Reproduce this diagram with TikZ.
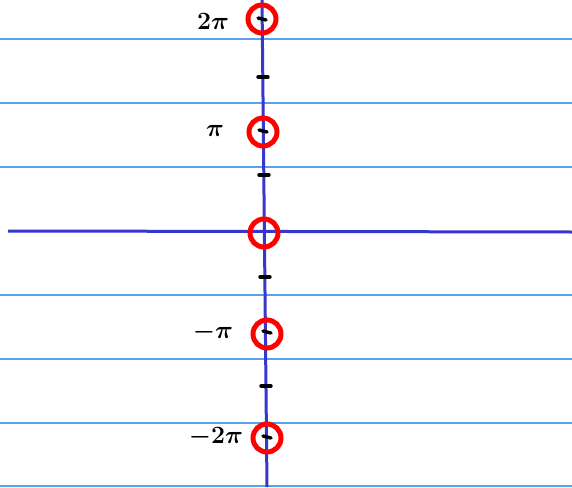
\documentclass[tikz,border=0pt]{standalone}
\usepackage{amsmath}
\usepackage{bm}
\definecolor{ruleblue}{RGB}{90,160,235}
\definecolor{axisblue}{RGB}{55,55,205}
\begin{document}
\begin{tikzpicture}[x=1pt,y=-1pt,
  ruled/.style={draw=ruleblue,line width=1.1pt},
  axis/.style={draw=axisblue,line width=3pt},
  hole/.style={circle,draw=red,line width=5pt,minimum size=28pt,inner sep=0pt},
  tickm/.style={draw=black,line width=3.4pt,line cap=round},
  lab/.style={font=\fontsize{24}{26}\selectfont,text=black}]
\useasboundingbox (0,0) rectangle (572,487);
\fill[white] (0,0) rectangle (572,487);
% notebook lines
\foreach \y in {39,103,167,295,359,423,486}
  \draw[ruled] (0,\y) -- (572,\y);
% axes
\coordinate (vt) at (262,0);
\coordinate (vb) at (267,487);
\coordinate (hl) at (8,231);
\coordinate (hr) at (572,232);
\draw[axis] (vt) -- (vb);
\draw[axis] (hl) -- (hr);
% intermediate ticks
\foreach \n/\x/\y in {t1/263/77,t2/264/175,t3/265/277,t4/266/386}{
  \coordinate (\n a) at (\x-5,\y);
  \coordinate (\n b) at (\x+5,\y);
  \draw[tickm] (\n a) -- (\n b);
}
% ticks at multiples of pi
\foreach \n/\x/\y in {m1/262/19,m2/263/131,m4/267/332,m5/267/437}{
  \coordinate (\n a) at (\x-4,\y-1);
  \coordinate (\n b) at (\x+4,\y+1);
  \draw[tickm] (\n a) -- (\n b);
}
% red circles
\node[hole] (c2) at (262,19) {};
\node[hole] (c1) at (263,132) {};
\node[hole] (c0) at (264,233) {};
\node[hole] (cm1) at (267,334) {};
\node[hole] (cm2) at (267,438) {};
% labels
\node[lab] (l2) at (213,21) {$\bm{2\pi}$};
\node[lab] (l1) at (215,131) {$\bm{\pi}$};
\node[lab] (lm1) at (213,332) {$\bm{-\pi}$};
\node[lab] (lm2) at (216,437) {$\bm{-2\pi}$};
\end{tikzpicture}
\end{document}
